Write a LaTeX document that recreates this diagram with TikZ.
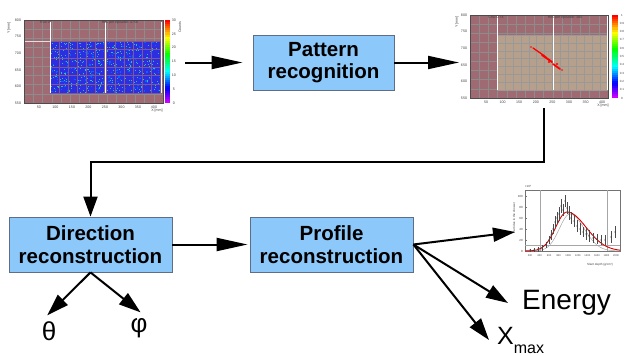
\documentclass[tikz,border=0pt]{standalone}
\usepackage{fontspec}
\setmainfont{Liberation Sans}
\usetikzlibrary{arrows.meta}
\definecolor{boxblue}{RGB}{140,200,250}
\definecolor{boxline}{RGB}{95,110,135}
\definecolor{pinkbg}{RGB}{160,106,114}
\definecolor{tanbg}{RGB}{182,160,140}
\definecolor{cellblue}{RGB}{45,45,225}
\begin{document}
\begin{tikzpicture}[x=1pt,y=-1pt,
  proc/.style={draw=boxline, fill=boxblue, line width=0.8pt, align=center, inner sep=0pt, minimum height=55pt, font=\fontsize{20.5}{22.5}\selectfont\bfseries},
  arr/.style={line width=2pt, -{Triangle[length=22pt,width=14pt]}},
  harr/.style={line width=2pt, -{Triangle[length=31pt,width=13pt]}},
  tick/.style={font=\fontsize{3.6}{4}\selectfont, text=black!75, inner sep=0pt},
  tinytick/.style={font=\fontsize{3}{3.5}\selectfont, text=black!75, inner sep=0pt},
  gridpink/.style={black!45, line width=0.35pt},
  big/.style={font=\fontsize{28}{30}\selectfont, inner sep=0pt},
  ghost/.style={inner sep=0pt, outer sep=0pt}
]
\useasboundingbox (0,0) rectangle (625,356);

% ---------------- image 1 : hit map ----------------
\node[ghost, minimum width=180pt, minimum height=95pt] (img1) at (95,62.5) {};
\fill[pinkbg] (24,20) rectangle (163,103);
\foreach \i in {0,...,15} \draw[gridpink] ({24+\i*139/15},20) -- ++(0,83);
\foreach \j in {0,...,9} \draw[gridpink] (24,{20+\j*83/9}) -- ++(139,0);
\fill[cellblue] (50,41) rectangle (160,93);
\pgfmathsetseed{7}
\foreach \k in {1,...,420}{
  \pgfmathsetmacro\px{50+109*rnd}
  \pgfmathsetmacro\py{41+51*rnd}
  \fill[cyan!60!green!80!white] (\px,\py) rectangle ++(0.9,0.9);
}
\foreach \k in {1,...,200}{
  \pgfmathsetmacro\px{50+109*rnd}
  \pgfmathsetmacro\py{41+51*rnd}
  \fill[blue!60!cyan] (\px,\py) rectangle ++(1.2,1.2);
}
\foreach \i in {0,...,6}{
  \draw[pinkbg!70!cellblue, line width=0.7pt] ({50+\i*9},41) -- ++(0,52);
  \draw[pinkbg!70!cellblue, line width=0.7pt] ({106+\i*9},41) -- ++(0,52);
}
\foreach \j in {0,...,6} \draw[pinkbg!70!cellblue, line width=0.7pt] (50,{41+\j*52/6}) -- ++(110,0);
\draw[white, line width=1pt] (50,22) -- (50,93) (105,22) -- (105,93) (161,22) -- (161,93);
\draw[white!75!gray, line width=0.6pt] (24,41) -- (50,41);
\draw[black!70, line width=0.3pt] (24,20) rectangle (163,103);
\foreach \i in {0,...,39}{
  \pgfmathsetmacro\hh{0.8*(1-\i/39)}
  \definecolor{cb}{hsb}{\hh,1,1}
  \fill[cb] (165,{103-\i*83/40}) rectangle (170,{103-(\i+1)*83/40});
}
\foreach \v/\xx in {50/39,100/55.5,150/72,200/88.5,250/105,300/121.5,350/138,400/154}
  \node[tick] at (\xx,107) {\v};
\node[tick] at (157,111) {X [mm]};
\foreach \v/\yy in {800/20,750/36.6,700/53.2,650/69.8,600/86.4,550/103}
  \node[tick] at (18,\yy) {\v};
\node[tick, rotate=90] at (9,28) {Y [mm]};
\foreach \v/\yy in {30/20,25/33.8,20/47.7,15/61.5,10/75.3,5/89.2,0/103}
  \node[tick] at (174,\yy) {\v};
\node[tick, rotate=90] at (180,27) {Counts};
\node[tick] at (45,22.5) {Run 0};
\node[tick] at (120,22.5) {Hits per episode: 4756};

% ---------------- image 2 : recognised track ----------------
\node[ghost, minimum width=164pt, minimum height=91pt] (img2) at (544,62.5) {};
\fill[pinkbg] (470,15) rectangle (608,98);
\foreach \i in {0,...,15} \draw[gridpink] ({470+\i*138/15},15) -- ++(0,83);
\foreach \j in {0,...,9} \draw[gridpink] (470,{15+\j*83/9}) -- ++(138,0);
\fill[tanbg] (497,35) rectangle (608,90);
\foreach \i in {0,...,14} \draw[black!40, line width=0.35pt] ({497+\i*111/14},35) -- ++(0,55);
\foreach \j in {0,...,7} \draw[black!40, line width=0.35pt] (497,{35+\j*55/7}) -- ++(111,0);
\draw[white, line width=1pt] (497,16) -- (497,90) (553,16) -- (553,90) (607.5,16) -- (607.5,90);
\draw[red, line width=1.3pt, line cap=round] (533,48) -- (546,57);
\draw[red, line width=2pt, line cap=round] (542,55) -- (552,62);
\draw[red, line width=1.7pt, line cap=round] (553,64) -- (560,69);
\fill[red] (531,47) circle (0.8) (549,62) circle (1.1) (557,64) circle (1.2) (562,70) circle (0.9);
\draw[black!70, line width=0.3pt] (470,15) rectangle (608,98);
\foreach \i in {0,...,39}{
  \pgfmathsetmacro\hh{0.8*(1-\i/39)}
  \definecolor{cb}{hsb}{\hh,1,1}
  \fill[cb] (612,{98-\i*83/40}) rectangle (618,{98-(\i+1)*83/40});
}
\foreach \v/\xx in {50/486,100/502.6,150/519.2,200/535.8,250/552.4,300/569,350/585.6,400/602.2}
  \node[tick] at (\xx,102) {\v};
\node[tick] at (603,106) {X [mm]};
\foreach \v/\yy in {800/15,750/31.6,700/48.2,650/64.8,600/81.4,550/98}
  \node[tick] at (464,\yy) {\v};
\node[tick, rotate=90] at (457,22) {Y [mm]};
\foreach \v [count=\c from 0] in {1,0.9,0.8,0.7,0.6,0.5,0.4,0.3,0.2,0.1,0}
  \node[tinytick] at (622,{15+\c*8.3}) {\v};
\node[tick] at (496,17.5) {Chi2 0.74};
\node[tick] at (565,17.5) {Hits per episode: 380};

% ---------------- image 3 : shower profile ----------------
\node[ghost, minimum width=110pt, minimum height=90pt] (img3) at (570,232) {};
\draw[black!55, line width=0.3pt] (525,190) rectangle (620,251);
\draw[black!35, line width=0.3pt] (540,190) -- (540,251) (607,190) -- (607,251) (525,245) -- (620,245);
\foreach \v/\yy in {0/251,20/240,40/229,60/218,80/207,100/196} {
  \node[tinytick, anchor=east] at (523,\yy) {\v};
  \draw[black!55, line width=0.3pt] (525,\yy) -- ++(2,0);
}
\node[tinytick] at (528,186) {×10³};
\node[tinytick, rotate=90] at (514,218) {Particles in the shower};
\foreach \v [count=\c from 0] in {200,400,600,800,1000,1200,1400,1600,1800,2000}
  \node[font=\fontsize{2.6}{3}\selectfont, text=black!75, inner sep=0pt] at ({530+\c*9.56},256) {\v};
\node[tinytick] at (600,265) {Slant depth (g/cm²)};
\draw[black!35, line width=0.5pt] plot[domain=525:570, samples=30] (\x,{251-37*exp(-((\x-570)/15)^2)})
   -- plot[domain=570:620, samples=30] (\x,{251-37*exp(-((\x-570)/20)^2)});
\draw[red!85!black, line width=0.9pt] plot[domain=525:567, samples=30] (\x,{251-39*exp(-((\x-567)/16)^2)})
   -- plot[domain=567:620, samples=30] (\x,{251-39*exp(-((\x-567)/27)^2)});
\foreach \px/\py/\e in {530/250/1.5,534/250/2,538/249/2.5,542/248/3,546/245/3,549/240/4,551/235/5,553/229/5,555/222/6,557/218/6,559/214/7,561/206/7,563/210/6,565/201/6,567/208/6,569/213/7,571/218/6,574/221/6,577/226/6,580/229/6,583/232/5,586/234/6,589/236/6,593/238/5,597/239/5,601/240/5,605/240/5,611/237/6,615/232/6}{
  \draw[black!70, line width=0.3pt] (\px,{\py-\e}) -- (\px,{\py+\e});
  \fill[black!80] (\px,\py) circle (0.55);
}

% ---------------- process boxes ----------------
\node[proc, minimum width=141pt] (pat) at (323.5,62.5) {Pattern\\recognition};
\node[proc, minimum width=163pt] (dir) at (90.5,244.5) {Direction\\reconstruction};
\node[proc, minimum width=163pt] (prof) at (331.5,244.5) {Profile\\reconstruction};

% ---------------- outputs ----------------
\node[font=\fontsize{26}{28}\selectfont, inner sep=0pt, anchor=north] (theta) at (49,321) {θ};
\node[font=\fontsize{26}{28}\selectfont, inner sep=0pt, anchor=north] (phi) at (139,318) {φ};
\node[big, anchor=west, inner xsep=14pt] (energy) at (508,303) {Energy};
\node[font=\fontsize{25}{27}\selectfont, anchor=west, inner xsep=8pt, inner ysep=0pt] (xmax) at (489,340) {X\raisebox{-9pt}{\fontsize{16}{16}\selectfont max}};

% ---------------- connectors ----------------
\draw[harr, shorten >=10pt] (img1.east) -- (pat.west);
\draw[harr, shorten >=3pt] (pat.east) -- (img2.west);
\draw[arr, -{Triangle[length=20pt,width=14pt]}] (img2.south) -- ++(0,54) -| (dir.north);
\draw[harr, shorten >=2pt] (dir.east) -- (prof.west);
\draw[arr, shorten >=8pt] (dir.south) -- (theta.north west);
\draw[arr, shorten >=9pt] (dir.south) -- (phi.north east);
\draw[arr] (prof.east) -- (img3.west);
\draw[arr] (prof.east) -- (energy.west);
\draw[arr] (prof.east) -- (xmax.west);
\end{tikzpicture}
\end{document}
